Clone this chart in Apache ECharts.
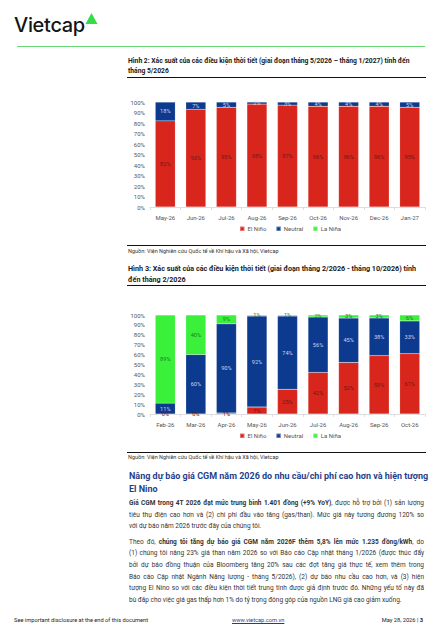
<!DOCTYPE html>
<html><head><meta charset="utf-8">
<script src="https://cdn.jsdelivr.net/npm/echarts@6/dist/echarts.min.js"></script>
<style>
html,body{margin:0;padding:0;background:#fff;}
body{width:446px;height:632px;position:relative;overflow:hidden;font-family:Roboto,"Noto Sans",sans-serif;color:#222;}
.abs{position:absolute;white-space:nowrap;}
.title{font-weight:700;color:#1a1a1a;}
.rule{position:absolute;height:1px;background:#111;}
.src{font-size:5.5px;color:#333;}
.body div{height:11.6px;line-height:11.6px;white-space:nowrap;}
.j{text-align:justify;text-align-last:justify;}
</style></head>
<body>
<div class="abs" style="left:14px;top:13px;font-family:Inter,sans-serif;font-size:20px;font-weight:500;letter-spacing:-0.3px;color:#151515;">Vietcap</div>
<svg class="abs" style="left:85px;top:12px" width="14" height="13"><polygon points="6.5,1 12.5,12 0.5,12" fill="#33dd44"/></svg>
<div class="abs" style="left:17px;top:45.5px;width:408px;height:1.4px;background:#66d676;"></div>

<div class="abs title" style="left:128px;top:57px;font-size:6.75px;line-height:9.5px;">Hình 2: Xác suất của các điều kiện thời tiết (giai đoạn tháng 5/2026 – tháng 1/2027) tính đến<br>tháng 5/2026</div>
<div class="rule" style="left:127px;top:77px;width:299px;"></div>
<div id="c1" class="abs" style="left:110px;top:90px;width:336px;height:155px;"></div>
<div class="rule" style="left:127px;top:245px;width:299px;"></div>
<div class="abs src" style="left:128px;top:248px;">Nguồn: Viện Nghiên cứu Quốc tế về Khí hậu và Xã hội, Vietcap</div>
<div class="abs title" style="left:128px;top:263px;font-size:7.2px;line-height:11px;">Hình 3: Xác suất của các điều kiện thời tiết (giai đoạn tháng 2/2026 - tháng 10/2026) tính<br>đến tháng 2/2026</div>
<div class="rule" style="left:127px;top:285px;width:299px;"></div>
<div id="c2" class="abs" style="left:110px;top:295px;width:336px;height:157px;"></div>
<div class="rule" style="left:127px;top:452px;width:299px;"></div>
<div class="abs src" style="left:128px;top:454px;">Nguồn: Viện Nghiên cứu Quốc tế về Khí hậu và Xã hội, Vietcap</div>

<div class="abs" style="left:129px;top:470px;font-size:9px;font-weight:700;color:#1f3f8c;line-height:12.5px;">Nâng dự báo giá CGM năm 2026 do nhu cầu/chi phí cao hơn và hiện tượng<br>El Nino</div>

<div class="abs body" style="left:129px;top:498px;width:295px;font-size:6.5px;color:#333;">
<div class="j"><b>Giá CGM trong 4T 2026 đạt mức trung bình 1.401 đồng (+9% YoY)</b>, được hỗ trợ bởi (1) sản lượng</div>
<div class="j">tiêu thụ điện cao hơn và (2) chi phí đầu vào tăng (gas/than). Mức giá này tương đương 120% so</div>
<div>với dự báo năm 2026 trước đây của chúng tôi.</div>
<div style="height:4px"></div>
<div class="j">Theo đó, <b>chúng tôi tăng dự báo giá CGM năm 2026F thêm 5,8% lên mức 1.235 đồng/kWh</b>, do</div>
<div class="j">(1) chúng tôi nâng 23% giá than năm 2026 so với Báo cáo Cập nhật tháng 1/2026 (được thúc đẩy</div>
<div class="j">bởi dự báo đồng thuận của Bloomberg tăng 20% sau các đợt tăng giá thực tế, xem thêm trong</div>
<div class="j">Báo cáo Cập nhật Ngành Năng lượng - tháng 5/2026), (2) dự báo nhu cầu cao hơn, và (3) hiện</div>
<div class="j">tượng El Nino so với các điều kiện thời tiết trung tính được giả định trước đó. Những yếu tố này đã</div>
<div>bù đắp cho việc giá gas thấp hơn 1% do tỷ trọng đóng góp của nguồn LNG giá cao giảm xuống.</div>
</div>

<div class="abs" style="left:14px;top:617px;font-size:5.7px;color:#222;">See important disclosure at the end of this document</div>
<div class="abs" style="left:232px;top:617px;font-size:5.7px;color:#1f3f8c;text-decoration:underline;">www.vietcap.com.vn</div>
<div class="abs" style="right:23px;top:617px;font-size:5.7px;color:#222;">May 28, 2026 | <b>3</b></div>

<script>
// Chart 1 (Hình 2)
const cats1 = ['May-26','Jun-26','Jul-26','Aug-26','Sep-26','Oct-26','Nov-26','Dec-26','Jan-27'];
const elnino1 = [82, 93, 95, 98, 97, 96, 96, 96, 95];
const neutral1 = [18, 7, 5, 2, 3, 4, 4, 4, 5];
const lanina1 = [0, 0, 0, 0, 0, 0, 0, 0, 0];
// Chart 2 (Hình 3)
const cats2 = ['Feb-26','Mar-26','Apr-26','May-26','Jun-26','Jul-26','Aug-26','Sep-26','Oct-26'];
const elnino2 = [0, 0, 1, 7, 25, 42, 52, 59, 61];
const neutral2 = [11, 60, 90, 92, 74, 56, 45, 38, 33];
const lanina2 = [89, 40, 9, 1, 1, 2, 3, 3, 6];
const seriesNames = ['El Niño', 'Neutral', 'La Niña'];
const colors = ['#d8261d', '#0c3a8e', '#3af03a'];
const labelColors = ['#6e1712', '#c9d3ee', '#257a25'];

function makeOption(cats, data, gridTop, showLaNinaLabel) {
  return {
    animation: false,
    color: colors,
    textStyle: {fontFamily: 'Roboto, "Noto Sans", sans-serif'},
    grid: {left: 40, right: 21, top: gridTop, bottom: 38},
    legend: {
      left: 124, bottom: 8, itemWidth: 4.5, itemHeight: 4.5, itemGap: 9, icon: 'rect',
      textStyle: {fontSize: 6, color: '#555', padding: [0, 0, 0, -2]},
      data: seriesNames
    },
    xAxis: {
      type: 'category', data: cats,
      axisLine: {lineStyle: {color: '#d5d5d5', width: 0.8}},
      axisTick: {show: true, length: 3, lineStyle: {color: '#d5d5d5', width: 0.8}},
      axisLabel: {fontSize: 6, color: '#555', margin: 7}
    },
    yAxis: {
      type: 'value', min: 0, max: 100, interval: 10,
      splitLine: {show: false},
      axisLine: {show: false}, axisTick: {show: false},
      axisLabel: {fontSize: 6, color: '#555', margin: 5, formatter: '{value}%'}
    },
    series: data.map((d, i) => ({
      name: seriesNames[i], type: 'bar', stack: 'all', barWidth: 20,
      data: d,
      itemStyle: {color: colors[i], borderColor: 'rgba(255,255,255,0.35)', borderWidth: 0.4},
      label: {
        show: i < 2 || showLaNinaLabel, position: 'inside', fontSize: 5.6,
        color: labelColors[i], formatter: '{c}%'
      }
    }))
  };
}
const c1 = echarts.init(document.getElementById('c1'), null, {renderer: 'svg'});
c1.setOption(makeOption(cats1, [elnino1, neutral1, lanina1], 12, false));
const c2 = echarts.init(document.getElementById('c2'), null, {renderer: 'svg'});
c2.setOption(makeOption(cats2, [elnino2, neutral2, lanina2], 20, true));
</script>
</body></html>
